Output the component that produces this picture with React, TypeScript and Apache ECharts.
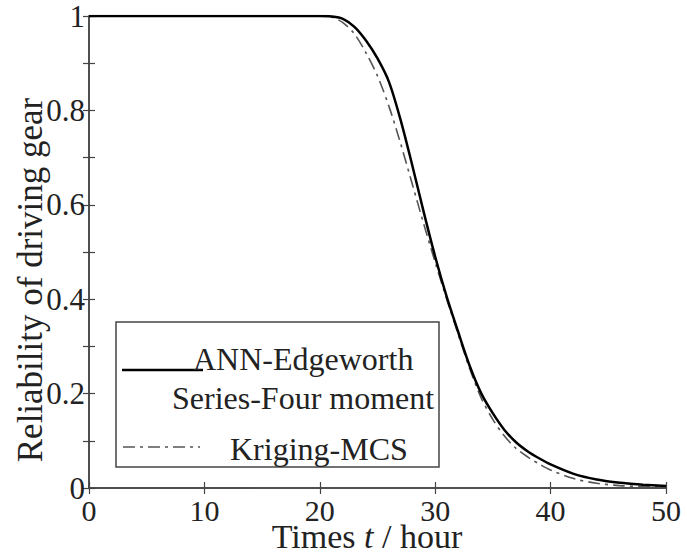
import React, { useEffect, useRef } from "react";
import * as echarts from "echarts";

const times = [0, 5, 10, 15, 18, 20, 21, 22, 23, 24, 25, 26, 27, 28, 29, 30, 31, 32, 33, 34, 35, 36, 37, 38, 39, 40, 42, 44, 46, 48, 50];
const annEdgeworth = [1, 1, 1, 1, 1, 1, 0.999, 0.994, 0.977, 0.948, 0.91, 0.86, 0.78, 0.685, 0.585, 0.49, 0.405, 0.33, 0.258, 0.2, 0.158, 0.123, 0.097, 0.078, 0.063, 0.05, 0.03, 0.018, 0.011, 0.007, 0.004];
const krigingMCS = [1, 1, 1, 1, 1, 1, 0.998, 0.986, 0.962, 0.922, 0.873, 0.808, 0.73, 0.645, 0.56, 0.478, 0.4, 0.325, 0.252, 0.19, 0.145, 0.11, 0.084, 0.066, 0.051, 0.038, 0.02, 0.01, 0.005, 0.003, 0.002];

const FONT = "Liberation Serif";
const AXIS = "#444";

export default function App() {
  const ref = useRef<HTMLDivElement>(null);
  useEffect(() => {
    const chart = echarts.init(ref.current!, null, { renderer: "svg" });
    const pair = (arr: number[]) => times.map((t, i) => [t, arr[i]]);
    const axisCommon = {
      axisLine: { show: true, lineStyle: { color: AXIS, width: 1.5 } },
      axisTick: { show: true, inside: true, length: 6, lineStyle: { color: AXIS, width: 1.2 } },
      splitLine: { show: false },
    };
    chart.setOption({
      animation: false,
      backgroundColor: "#fff",
      grid: { left: 89, top: 16, width: 577, height: 472, containLabel: false },
      xAxis: [
        {
          type: "value", min: 0, max: 50, interval: 10, position: "bottom",
          ...axisCommon,
          axisLabel: { show: true, fontFamily: FONT, fontSize: 30, color: "#222", margin: 7 },
        },
        {
          type: "value", min: 0, max: 50, interval: 10, position: "top",
          ...axisCommon,
          axisLabel: { show: false },
        },
      ],
      yAxis: [
        {
          type: "value", min: 0, max: 1, interval: 0.1, position: "left",
          ...axisCommon,
          axisLabel: {
            show: true, fontFamily: FONT, fontSize: 31, color: "#222", margin: 4,
            formatter: (v: number) => {
              const k = Math.round(v * 10);
              return k % 2 === 0 ? String(k / 10) : "";
            },
          },
        },
        {
          type: "value", min: 0, max: 1, interval: 0.1, position: "right",
          ...axisCommon,
          axisLabel: { show: false },
        },
      ],
      series: [
        {
          type: "line", name: "ANN-Edgeworth Series-Four moment", data: pair(annEdgeworth),
          smooth: 0.3, showSymbol: false, symbol: "none",
          lineStyle: { color: "#000", width: 2.5 }, z: 3,
        },
        {
          type: "line", name: "Kriging-MCS", data: pair(krigingMCS),
          smooth: 0.3, showSymbol: false, symbol: "none",
          lineStyle: { color: "#555", width: 1.6, type: [12, 5, 3, 5] }, z: 2,
        },
      ],
      graphic: [
        {
          type: "text", x: 30, y: 280, rotation: Math.PI / 2,
          style: {
            text: "Reliability of driving gear", fontFamily: FONT, fontSize: 35, fill: "#222",
            align: "center", verticalAlign: "middle",
          },
        },
        {
          type: "text", x: 367, y: 536,
          style: {
            text: "{a|Times }{i|t}{a| / hour}", align: "center", verticalAlign: "middle",
            rich: {
              a: { fontFamily: FONT, fontSize: 34, fill: "#222" },
              i: { fontFamily: FONT, fontSize: 34, fontStyle: "italic", fill: "#222" },
            },
          },
        },
        {
          type: "rect", shape: { x: 116, y: 322, width: 323, height: 145 },
          style: { fill: "#fff", stroke: AXIS, lineWidth: 1.5 }, z: 10,
        },
        {
          type: "line", shape: { x1: 122, y1: 370, x2: 203, y2: 370 },
          style: { stroke: "#000", lineWidth: 2.5 }, z: 11,
        },
        {
          type: "line", shape: { x1: 123, y1: 447, x2: 200, y2: 447 },
          style: { stroke: "#555", lineWidth: 1.6, lineDash: [12, 5, 3, 5] }, z: 11,
        },
        {
          type: "text", x: 193, y: 359, z: 11,
          style: { text: "ANN-Edgeworth", fontFamily: FONT, fontSize: 32, fill: "#222", verticalAlign: "middle" },
        },
        {
          type: "text", x: 172, y: 398, z: 11,
          style: { text: "Series-Four moment", fontFamily: FONT, fontSize: 32, fill: "#222", verticalAlign: "middle" },
        },
        {
          type: "text", x: 230, y: 449, z: 11,
          style: { text: "Kriging-MCS", fontFamily: FONT, fontSize: 32, fill: "#222", verticalAlign: "middle" },
        },
      ],
    });
    return () => chart.dispose();
  }, []);
  return <div ref={ref} style={{ position: "fixed", left: 0, top: 0, width: 687, height: 553 }} />;
}
